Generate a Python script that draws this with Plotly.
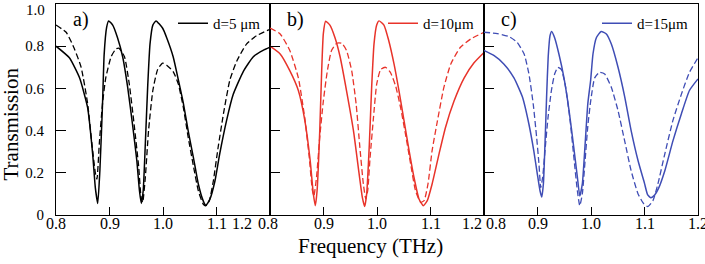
import plotly.graph_objects as go

# ---------------- data ----------------
fa_solid = [0.800, 0.825, 0.844, 0.859, 0.8685, 0.8735, 0.878, 0.882, 0.887, 0.890, 0.8947, 0.8984,
            0.906, 0.915, 0.9246, 0.934, 0.943, 0.951, 0.956, 0.9595, 0.963, 0.967, 0.9713, 0.9757,
            0.981, 0.987, 0.9994, 1.0069, 1.019, 1.0287, 1.038, 1.047, 1.057, 1.066, 1.075, 1.080,
            1.0878, 1.097, 1.106, 1.119, 1.131, 1.150, 1.1688, 1.187, 1.200]
ta_solid = [0.80, 0.745, 0.65, 0.51, 0.29, 0.13, 0.055, 0.21, 0.53, 0.76, 0.89, 0.92,
            0.90, 0.84, 0.75, 0.605, 0.43, 0.26, 0.115, 0.055, 0.115, 0.34, 0.605, 0.81,
            0.90, 0.92, 0.885, 0.84, 0.75, 0.64, 0.53, 0.40, 0.27, 0.147, 0.068, 0.045,
            0.076, 0.16, 0.29, 0.45, 0.57, 0.68, 0.75, 0.78, 0.795]
fa_dash = [0.800, 0.819, 0.834, 0.847, 0.859, 0.867, 0.8735, 0.8765, 0.881, 0.887, 0.893, 0.903,
           0.912, 0.918, 0.928, 0.937, 0.946, 0.9545, 0.959, 0.962, 0.967, 0.973, 0.981, 0.990,
           0.9994, 1.0069, 1.019, 1.0287, 1.038, 1.047, 1.057, 1.066, 1.075, 1.080, 1.0866, 1.094,
           1.103, 1.113, 1.125, 1.138, 1.156, 1.175, 1.200]
ta_dash = [0.90, 0.866, 0.79, 0.70, 0.53, 0.34, 0.20, 0.17, 0.34, 0.53, 0.65, 0.75,
           0.787, 0.79, 0.75, 0.62, 0.43, 0.23, 0.085, 0.06, 0.18, 0.40, 0.59, 0.69,
           0.72, 0.71, 0.68, 0.62, 0.51, 0.37, 0.23, 0.115, 0.052, 0.044, 0.068, 0.16,
           0.32, 0.48, 0.64, 0.73, 0.81, 0.85, 0.88]

fb_solid = [0.800, 0.819, 0.837, 0.853, 0.865, 0.875, 0.881, 0.8847, 0.888, 0.893, 0.8966, 0.8997,
            0.904, 0.912, 0.9215, 0.931, 0.943, 0.956, 0.965, 0.9726, 0.977, 0.9807, 0.9857, 0.990,
            0.9944, 0.9994, 1.0037, 1.013, 1.022, 1.0318, 1.041, 1.0505, 1.060, 1.069, 1.0785, 1.0866,
            1.094, 1.103, 1.116, 1.128, 1.144, 1.163, 1.181, 1.200]
tb_solid = [0.80, 0.763, 0.684, 0.59, 0.45, 0.26, 0.10, 0.044, 0.115, 0.40, 0.684, 0.86,
            0.918, 0.90, 0.84, 0.75, 0.59, 0.40, 0.226, 0.084, 0.04, 0.10, 0.336, 0.605,
            0.81, 0.90, 0.92, 0.90, 0.826, 0.716, 0.59, 0.447, 0.305, 0.18, 0.076, 0.044,
            0.068, 0.147, 0.29, 0.415, 0.54, 0.65, 0.72, 0.77]
fb_dash = [0.800, 0.819, 0.837, 0.853, 0.865, 0.8735, 0.879, 0.882, 0.887, 0.893, 0.8997, 0.907,
           0.915, 0.9246, 0.934, 0.943, 0.9527, 0.961, 0.968, 0.9745, 0.979, 0.9826, 0.987, 0.993,
           0.9994, 1.0069, 1.016, 1.025, 1.035, 1.044, 1.0535, 1.063, 1.072, 1.0816, 1.088, 1.0953,
           1.103, 1.113, 1.125, 1.138, 1.156, 1.175, 1.200]
tb_dash = [0.886, 0.858, 0.78, 0.65, 0.46, 0.27, 0.12, 0.09, 0.18, 0.37, 0.54, 0.68,
           0.78, 0.814, 0.814, 0.78, 0.684, 0.526, 0.32, 0.147, 0.076, 0.115, 0.27, 0.45,
           0.62, 0.69, 0.70, 0.676, 0.61, 0.51, 0.38, 0.24, 0.115, 0.06, 0.068, 0.147,
           0.305, 0.447, 0.605, 0.716, 0.795, 0.834, 0.866]

fc_solid = [0.800, 0.819, 0.837, 0.856, 0.8717, 0.884, 0.893, 0.8997, 0.9047, 0.908, 0.911, 0.914,
            0.917, 0.920, 0.9234, 0.9265, 0.932, 0.940, 0.9495, 0.959, 0.967, 0.9745, 0.979, 0.9838,
            0.989, 0.994, 0.9994, 1.0037, 1.010, 1.019, 1.0287, 1.038, 1.0505, 1.063, 1.075, 1.088,
            1.100, 1.106, 1.112, 1.119, 1.126, 1.138, 1.153, 1.169, 1.184, 1.200]
tc_solid = [0.78, 0.755, 0.716, 0.65, 0.56, 0.43, 0.305, 0.194, 0.115, 0.085, 0.147, 0.336,
            0.56, 0.75, 0.85, 0.87, 0.84, 0.763, 0.65, 0.495, 0.336, 0.18, 0.09, 0.147,
            0.336, 0.526, 0.64, 0.763, 0.84, 0.87, 0.858, 0.81, 0.70, 0.56, 0.40, 0.257,
            0.15, 0.095, 0.082, 0.095, 0.125, 0.21, 0.35, 0.48, 0.59, 0.645]
fc_dash = [0.800, 0.825, 0.847, 0.862, 0.875, 0.884, 0.892, 0.8984, 0.9028, 0.906, 0.9097, 0.914,
           0.9196, 0.926, 0.932, 0.938, 0.9445, 0.9527, 0.961, 0.968, 0.9745, 0.979, 0.9838, 0.989,
           0.994, 0.9994, 1.0069, 1.016, 1.0256, 1.038, 1.0505, 1.063, 1.075, 1.088, 1.099, 1.106,
           1.1158, 1.125, 1.138, 1.153, 1.169, 1.184, 1.200]
tc_dash = [0.866, 0.86, 0.845, 0.818, 0.763, 0.668, 0.526, 0.368, 0.24, 0.13, 0.18, 0.305,
           0.46, 0.59, 0.668, 0.70, 0.69, 0.605, 0.447, 0.273, 0.115, 0.044, 0.10, 0.26,
           0.42, 0.54, 0.65, 0.676, 0.668, 0.605, 0.495, 0.35, 0.21, 0.10, 0.052, 0.04,
           0.068, 0.147, 0.29, 0.447, 0.573, 0.676, 0.745]

panel_labels = ["a)", "b)", "c)"]
legend_names = ["d=5 \u03bcm", "d=10\u03bcm", "d=15\u03bcm"]
colors = ["#000000", "#e8332a", "#3f4db5"]
x_tickvals = [0.8, 0.9, 1.0, 1.1, 1.2]
x_ticktext = ["0.8", "0.9", "1.0", "1.1", "1.2"]
y_tickvals = [0, 0.2, 0.4, 0.6, 0.8, 1.0]
y_ticktext = ["0", "0.2", "0.4", "0.6", "0.8", "1.0"]

panels = [
    (fa_solid, ta_solid, fa_dash, ta_dash),
    (fb_solid, tb_solid, fb_dash, tb_dash),
    (fc_solid, tc_solid, fc_dash, tc_dash),
]

# ---------------- figure ----------------
W, H = 705, 264
ML, MR, MT, MB = 56, 7, 4, 49
PW = W - ML - MR
pw = 214.0 / PW
domains = [[0, pw], [pw, 2 * pw], [2 * pw, 1]]
FONT = "Liberation Serif, Times New Roman, DejaVu Serif, serif"

fig = go.Figure()
legend_keys = ["legend", "legend2", "legend3"]
for i, (fs, ts, fd, td) in enumerate(panels):
    xa = "x" if i == 0 else f"x{i+1}"
    ya = "y" if i == 0 else f"y{i+1}"
    fig.add_trace(go.Scatter(x=fd, y=td, mode="lines", xaxis=xa, yaxis=ya,
                             line=dict(color=colors[i], width=1.3, dash="6px,3px",
                                       shape="spline", smoothing=0.5),
                             showlegend=False))
    fig.add_trace(go.Scatter(x=fs, y=ts, mode="lines", xaxis=xa, yaxis=ya,
                             name=legend_names[i], legend=legend_keys[i],
                             line=dict(color=colors[i], width=1.5,
                                       shape="spline", smoothing=0.5)))

layout = dict(
    width=W, height=H,
    margin=dict(l=ML, r=MR, t=MT, b=MB),
    paper_bgcolor="white", plot_bgcolor="white",
    font=dict(family=FONT, color="black"),
)
for i in range(3):
    xk = "xaxis" if i == 0 else f"xaxis{i+1}"
    yk = "yaxis" if i == 0 else f"yaxis{i+1}"
    ya = "y" if i == 0 else f"y{i+1}"
    xa = "x" if i == 0 else f"x{i+1}"
    layout[xk] = dict(domain=domains[i], range=[0.8, 1.2], anchor=ya,
                      tickvals=x_tickvals, showticklabels=False, ticks="inside", ticklen=8,
                      tickwidth=1.2, tickcolor="black",
                      showline=True, mirror=True, linecolor="black", linewidth=1.2,
                      showgrid=False, zeroline=False)
    ytt = [t if i == 0 else "" for t in y_ticktext]
    ytt[-1] = ""
    layout[yk] = dict(domain=[0, 1], range=[0, 1.0], anchor=xa,
                      tickvals=y_tickvals, ticktext=ytt, ticks="inside", ticklen=10,
                      tickwidth=1.2, tickcolor="black", ticklabelstandoff=8,
                      showline=True, mirror=True, linecolor="black", linewidth=1.2,
                      showgrid=False, zeroline=False,
                      tickfont=dict(family=FONT, size=15, color="black"))

for i, k in enumerate(legend_keys):
    layout[k] = dict(x=domains[i][1] - 4.0 / PW, xanchor="right", y=1 - 3.0 / 211, yanchor="top",
                     bgcolor="rgba(0,0,0,0)", borderwidth=0, itemwidth=30,
                     font=dict(family=FONT, size=15, color="black"),
                     tracegroupgap=0)
fig.update_layout(**layout)

annotations = []
for i in range(3):
    annotations.append(dict(text=panel_labels[i], xref="paper", yref="paper",
                            x=domains[i][0], y=1, xanchor="left", yanchor="middle",
                            xshift=15, yshift=-15, showarrow=False,
                            font=dict(family=FONT, size=20, color="black")))
# x tick labels (as annotations so the edge labels can be nudged like the original)
shifts = [
    [("center", 0), ("center", 0), ("center", 0), ("center", 0), ("right", -16)],
    [("left", -14), ("center", 0), ("center", 0), ("center", 0), ("right", 0)],
    [("left", 0), ("center", 0), ("center", 0), ("center", 0), ("center", 0)],
]
for i in range(3):
    xa = "x" if i == 0 else f"x{i+1}"
    for v, txt, (anc, sh) in zip(x_tickvals, x_ticktext, shifts[i]):
        annotations.append(dict(text=txt, xref=xa, yref="paper", x=v, y=0,
                                xanchor=anc, yanchor="top", xshift=sh, yshift=2,
                                showarrow=False,
                                font=dict(family=FONT, size=16, color="black")))
annotations.append(dict(text="1.0", xref="paper", yref="paper", x=0, y=1, xanchor="right",
                        yanchor="middle", xshift=-9, yshift=-6, showarrow=False,
                        font=dict(family=FONT, size=15, color="black")))
annotations.append(dict(text="Frequency (THz)", xref="paper", yref="paper", x=0.49, y=0,
                        xanchor="center", yanchor="middle", yshift=-31, showarrow=False,
                        font=dict(family=FONT, size=21, color="black")))
annotations.append(dict(text="Transmission", xref="paper", yref="paper", x=0, y=0.5,
                        xanchor="center", yanchor="middle", xshift=-46, yshift=-15,
                        textangle=-90, showarrow=False,
                        font=dict(family=FONT, size=21, color="black")))
fig.update_layout(annotations=annotations)

fig.write_html("out.html", config={"displayModeBar": False},
               post_script="document.body.style.margin='0';document.body.style.overflow='hidden';")
